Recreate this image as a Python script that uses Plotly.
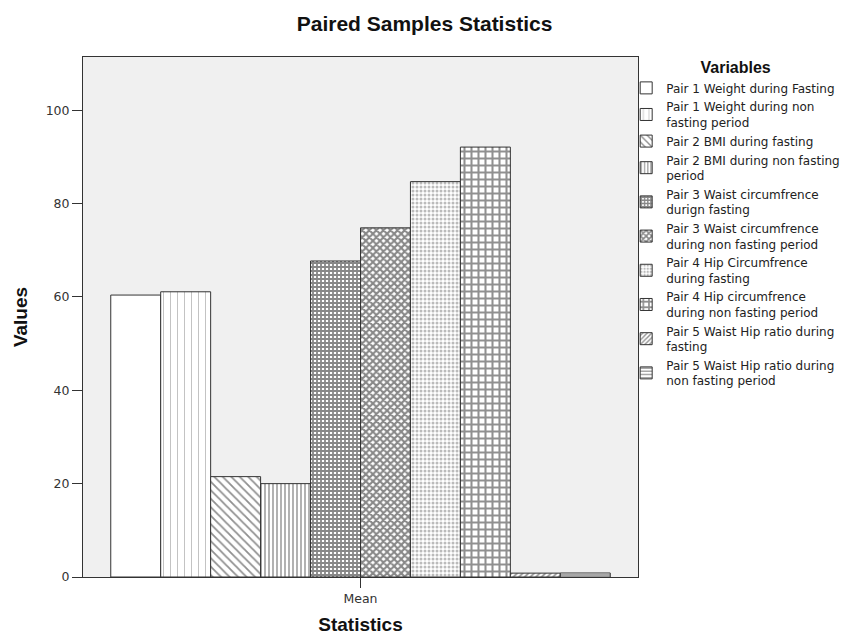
import plotly.graph_objects as go

categories = ["Mean"]
series_names = [
    "Pair 1 Weight during Fasting",
    "Pair 1 Weight during non<br>fasting period",
    "Pair 2 BMI during fasting",
    "Pair 2 BMI during non fasting<br>period",
    "Pair 3 Waist circumfrence<br>durign fasting",
    "Pair 3 Waist circumfrence<br>during non fasting period",
    "Pair 4 Hip Circumfrence<br>during fasting",
    "Pair 4 Hip circumfrence<br>during non fasting period",
    "Pair 5 Waist Hip ratio during<br>fasting",
    "Pair 5 Waist Hip ratio during<br>non fasting period",
]
series_values = [60.4, 61.1, 21.5, 20.0, 67.7, 74.8, 84.7, 92.1, 0.83, 0.86]
y_ticks = [0, 20, 40, 60, 80, 100]

patterns = [
    dict(shape="", fgcolor="#555", bgcolor="white"),
    dict(shape="|", fgcolor="#888", bgcolor="white", size=7, solidity=0.15),
    dict(shape="\\", fgcolor="#222", bgcolor="white", size=6, solidity=0.3),
    dict(shape="|", fgcolor="#222", bgcolor="white", size=4, solidity=0.35),
    dict(shape="+", fgcolor="#111", bgcolor="white", size=4, solidity=0.7),
    dict(shape="x", fgcolor="#111", bgcolor="white", size=5, solidity=0.65),
    dict(shape=".", fgcolor="#777", bgcolor="white", size=4, solidity=0.45),
    dict(shape="+", fgcolor="#222", bgcolor="white", size=7, solidity=0.5),
    dict(shape="/", fgcolor="#222", bgcolor="white", size=4, solidity=0.45),
    dict(shape="-", fgcolor="#222", bgcolor="white", size=4, solidity=0.4),
]

fig = go.Figure()
for name, val, pat in zip(series_names, series_values, patterns):
    fig.add_trace(go.Bar(
        x=categories, y=[val], name=name,
        marker=dict(color="white", line=dict(color="#333", width=1), pattern=pat),
    ))

bold_family = "Liberation Sans, Arial, sans-serif"
small_family = "DejaVu Sans, sans-serif"
fig.update_layout(
    width=849, height=635,
    margin=dict(l=70, r=215, t=49, b=66),
    paper_bgcolor="white", plot_bgcolor="#F0F0F0",
    barmode="group", bargap=0.1, bargroupgap=0,
    font=dict(family=small_family, size=12, color="#222"),
    title=dict(text="<b>Paired Samples Statistics</b>", x=0.4906, xanchor="center",
               y=0.975, yanchor="middle",
               font=dict(family=bold_family, size=21, color="#111")),
    showlegend=True,
    legend=dict(
        x=0.9787, y=1.0085, xanchor="left", yanchor="top",
        maxheight=600,
        title=dict(text="<b>Variables</b>", side="top center",
                   font=dict(family=bold_family, size=16, color="#111")),
        font=dict(family=small_family, size=12, color="#222"), bgcolor="rgba(0,0,0,0)",
        tracegroupgap=0, itemwidth=30,
    ),
    xaxis=dict(
        range=[-0.5, 0.5], showline=True, linecolor="#333", linewidth=1, mirror=True,
        ticks="outside", ticklen=10, tickcolor="#333", showgrid=False,
        title=dict(text="<b>Statistics</b>",
                   font=dict(family=bold_family, size=19, color="#111"), standoff=12),
        tickfont=dict(family=small_family, size=12.5, color="#333"),
    ),
    yaxis=dict(
        range=[0, 111.4], tickvals=y_ticks, showline=True, linecolor="#333", linewidth=1,
        mirror=True, ticks="outside", ticklen=10, tickcolor="#333", showgrid=False, zeroline=False,
        title=dict(text="<b>Values</b>",
                   font=dict(family=bold_family, size=19, color="#111"), standoff=12),
        tickfont=dict(family=small_family, size=12.5, color="#333"),
    ),
)

fig.write_html("out.html")
